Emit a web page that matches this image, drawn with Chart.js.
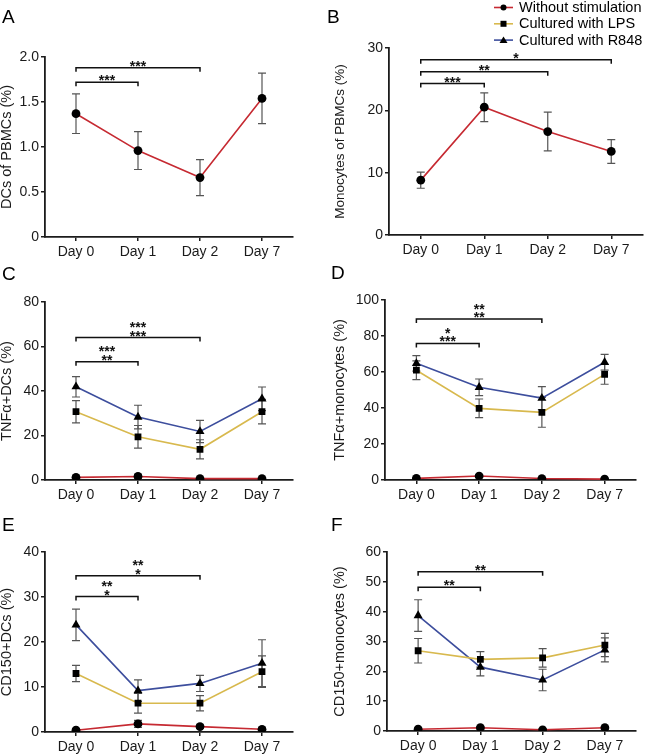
<!DOCTYPE html>
<html>
<head>
<meta charset="utf-8">
<script src="https://cdn.jsdelivr.net/npm/chart.js@4"></script>
<style>
    body { margin: 0; background: #fff; width: 648px; height: 756px; position: relative; overflow: hidden; }
    canvas { position: absolute; }
</style>
</head>
<body>
<canvas id="chartA" width="324" height="262" style="left:0;top:0"></canvas>
<canvas id="chartB" width="324" height="262" style="left:324px;top:0"></canvas>
<canvas id="chartC" width="324" height="262" style="left:0;top:250px"></canvas>
<canvas id="chartD" width="324" height="262" style="left:324px;top:250px"></canvas>
<canvas id="chartE" width="324" height="256" style="left:0;top:500px"></canvas>
<canvas id="chartF" width="324" height="256" style="left:324px;top:500px"></canvas>
<script>
// Categories and series names
const days = ['Day 0', 'Day 1', 'Day 2', 'Day 7'];
const seriesNames = ['Without stimulation', 'Cultured with LPS', 'Cultured with R848'];

// A - DCs of PBMCs
const dcPbmcMean = [1.37, 0.96, 0.66, 1.54];
const dcPbmcErr = [0.22, 0.21, 0.20, 0.28];

// B - Monocytes of PBMCs
const monoPbmcMean = [8.8, 20.5, 16.6, 13.4];
const monoPbmcErr = [1.3, 2.3, 3.1, 1.9];

// C - TNFa+ DCs
const tnfDcNone = [1.2, 1.6, 0.6, 0.6];
const tnfDcNoneErr = [0.6, 0.8, 0.4, 0.3];
const tnfDcLps = [30.7, 19.4, 13.8, 30.7];
const tnfDcLpsErr = [5.0, 5.1, 4.3, 5.5];
const tnfDcR848 = [41.9, 28.3, 21.8, 36.5];
const tnfDcR848Err = [4.6, 5.3, 5.0, 5.3];

// D - TNFa+ monocytes
const tnfMoNone = [0.9, 2.2, 0.8, 0.5];
const tnfMoNoneErr = [0.5, 0.6, 0.4, 0.3];
const tnfMoLps = [61.0, 39.8, 37.6, 58.7];
const tnfMoLpsErr = [5.2, 5.2, 8.3, 5.5];
const tnfMoR848 = [64.8, 51.5, 45.5, 65.4];
const tnfMoR848Err = [4.3, 4.6, 6.4, 4.4];

// E - CD150+ DCs
const cdDcNone = [0.4, 1.8, 1.2, 0.6];
const cdDcNoneErr = [0.3, 0.8, 0.4, 0.3];
const cdDcLps = [13.0, 6.4, 6.4, 13.4];
const cdDcLpsErr = [1.8, 2.2, 1.7, 3.5];
const cdDcR848 = [23.8, 9.2, 10.8, 15.3];
const cdDcR848Err = [3.5, 2.4, 1.8, 5.2];

// F - CD150+ monocytes
const cdMoNone = [0.6, 1.1, 0.4, 1.1];
const cdMoNoneErr = [0.3, 0.4, 0.3, 0.4];
const cdMoLps = [26.9, 24.0, 24.5, 28.8];
const cdMoLpsErr = [4.1, 2.6, 3.1, 3.9];
const cdMoR848 = [38.7, 21.4, 17.1, 27.2];
const cdMoR848Err = [5.3, 2.9, 3.6, 4.0];

// Significance brackets: from Day 0 to index, at y value, star rows top to bottom
const bracketsA = [{ to: 1, y: 1.72, stars: ['***'] }, { to: 2, y: 1.88, stars: ['***'] }];
const bracketsB = [{ to: 1, y: 24.3, stars: ['***'] }, { to: 2, y: 26.2, stars: ['**'] }, { to: 3, y: 28.1, stars: ['*'] }];
const bracketsC = [{ to: 1, y: 53.2, stars: ['***', '**'] }, { to: 2, y: 64.0, stars: ['***', '***'] }];
const bracketsD = [{ to: 1, y: 75.9, stars: ['*', '***'] }, { to: 2, y: 89.4, stars: ['**', '**'] }];
const bracketsE = [{ to: 1, y: 30.1, stars: ['**', '*'] }, { to: 2, y: 34.7, stars: ['**', '*'] }];
const bracketsF = [{ to: 1, y: 48.2, stars: ['**'] }, { to: 2, y: 53.4, stars: ['**'] }];

const RED = '#c62a32';
const GOLD = '#d8b94e';
const BLUE = '#3d4e9d';
const AXIS = '#1c1c1c';
const FONT = "'Liberation Sans', Arial, sans-serif";

Chart.defaults.font.family = FONT;
Chart.defaults.color = '#1a1a1a';

const styles = [
    { color: RED, point: 'circle', radius: 4.4 },
    { color: GOLD, point: 'rect', radius: 4.8 },
    { color: BLUE, point: 'triangle', radius: 5.2 }
];

function series(idx, values, errs) {
    const s = styles[idx];
    return {
        label: seriesNames[idx],
        data: values,
        errors: errs,
        borderColor: s.color,
        borderWidth: 1.6,
        pointStyle: s.point,
        pointRadius: s.radius,
        pointBackgroundColor: '#000',
        pointBorderColor: '#000',
        pointBorderWidth: 0,
        tension: 0
    };
}

// error bars, brackets, panel letter, legend
const decor = {
    id: 'decor',
    beforeDatasetsDraw(chart) {
        const ctx = chart.ctx;
        const y = chart.scales.y;
        ctx.save();
        ctx.strokeStyle = '#555';
        ctx.lineWidth = 1.2;
        chart.data.datasets.forEach((ds, i) => {
            const meta = chart.getDatasetMeta(i);
            ds.data.forEach((v, j) => {
                const e = ds.errors[j];
                const px = meta.data[j].x;
                const top = y.getPixelForValue(v + e);
                const bot = y.getPixelForValue(Math.max(v - e, 0));
                ctx.beginPath();
                ctx.moveTo(px, top); ctx.lineTo(px, bot);
                ctx.moveTo(px - 4, top); ctx.lineTo(px + 4, top);
                ctx.moveTo(px - 4, bot); ctx.lineTo(px + 4, bot);
                ctx.stroke();
            });
        });
        ctx.restore();
    },
    afterDraw(chart, args, opts) {
        const ctx = chart.ctx;
        const x = chart.scales.x;
        const y = chart.scales.y;
        ctx.save();
        // brackets
        ctx.strokeStyle = '#111';
        ctx.fillStyle = '#111';
        ctx.lineWidth = 1.5;
        ctx.font = 'bold 14px ' + FONT;
        ctx.textAlign = 'center';
        ctx.textBaseline = 'alphabetic';
        (opts.brackets || []).forEach(b => {
            const x0 = x.getPixelForValue(0);
            const x1 = x.getPixelForValue(b.to);
            const py = y.getPixelForValue(b.y);
            ctx.beginPath();
            ctx.moveTo(x0, py + 4); ctx.lineTo(x0, py); ctx.lineTo(x1, py); ctx.lineTo(x1, py + 4);
            ctx.stroke();
            const n = b.stars.length;
            b.stars.forEach((s, k) => {
                const row = n - 1 - k;
                ctx.fillText(s, (x0 + x1) / 2, py + 3 - row * 8.5);
            });
        });
        // panel letter
        ctx.font = '19px ' + FONT;
        ctx.textAlign = 'left';
        ctx.fillStyle = '#000';
        ctx.fillText(opts.letter, opts.letterX, opts.letterY);
        // legend
        if (opts.legend) {
            ctx.font = '14.5px ' + FONT;
            ctx.textBaseline = 'middle';
            styles.forEach((s, i) => {
                const ly = 7.5 + i * 16.3;
                ctx.strokeStyle = s.color;
                ctx.lineWidth = 1.6;
                ctx.beginPath();
                ctx.moveTo(170, ly); ctx.lineTo(189, ly);
                ctx.stroke();
                ctx.fillStyle = '#000';
                ctx.beginPath();
                if (s.point === 'circle') {
                    ctx.arc(179.5, ly, 3, 0, Math.PI * 2);
                } else if (s.point === 'rect') {
                    ctx.rect(176.5, ly - 3, 6, 6);
                } else {
                    ctx.moveTo(179.5, ly - 3.5); ctx.lineTo(183.5, ly + 3); ctx.lineTo(175.5, ly + 3); ctx.closePath();
                }
                ctx.fill();
                ctx.fillText(seriesNames[i], 195, ly + 0.5);
            });
        }
        ctx.restore();
    }
};

function makePanel(id, cfg) {
    const canvas = document.getElementById(id);
    const H = canvas.height;
    return new Chart(canvas, {
        type: 'line',
        data: { labels: days, datasets: cfg.datasets },
        options: {
            responsive: false,
            animation: false,
            events: [],
            layout: { padding: { left: 0, top: cfg.top, right: 324 - cfg.right, bottom: 0 } },
            plugins: {
                legend: { display: false },
                tooltip: { enabled: false },
                decor: {
                    brackets: cfg.brackets,
                    letter: cfg.letter,
                    letterX: cfg.letterX,
                    letterY: cfg.letterY,
                    legend: cfg.legend || false
                }
            },
            scales: {
                x: {
                    type: 'category',
                    offset: true,
                    afterFit(scale) { scale.height = H - cfg.bottom; },
                    border: { display: true, color: AXIS, width: 1.8 },
                    grid: { display: true, drawOnChartArea: false, drawTicks: true, tickLength: 4, color: AXIS, lineWidth: 1.5 },
                    ticks: { font: { size: 14 }, padding: 3, color: '#1a1a1a', maxRotation: 0 }
                },
                y: {
                    min: 0,
                    max: cfg.max,
                    afterFit(scale) { scale.width = cfg.left; },
                    border: { display: true, color: AXIS, width: 1.8 },
                    grid: { display: true, drawOnChartArea: false, drawTicks: true, tickLength: 4, color: AXIS, lineWidth: 1.5 },
                    ticks: {
                        stepSize: cfg.step,
                        font: { size: 14 },
                        padding: 2,
                        color: '#1a1a1a',
                        callback: cfg.fmt || (v => String(v))
                    },
                    title: {
                        display: true,
                        text: cfg.title,
                        font: { size: cfg.titleSize || 14.5, lineHeight: 1 },
                        padding: { top: cfg.titlePad, bottom: 0 },
                        color: '#1a1a1a'
                    }
                }
            }
        },
        plugins: [decor]
    });
}

makePanel('chartA', {
    datasets: [series(0, dcPbmcMean, dcPbmcErr)],
    left: 45, right: 293, top: 57, bottom: 237, max: 2, step: 0.5,
    fmt: v => (v === 0 ? '0' : v.toFixed(1)),
    title: 'DCs of PBMCs (%)', titlePad: 0,
    brackets: bracketsA, letter: 'A', letterX: 2, letterY: 23
});

makePanel('chartB', {
    datasets: [series(0, monoPbmcMean, monoPbmcErr)],
    left: 65, right: 319, top: 48, bottom: 235, max: 30, step: 10,
    title: 'Monocytes of PBMCs (%)', titleSize: 13.5, titlePad: 10,
    brackets: bracketsB, letter: 'B', letterX: 3, letterY: 23, legend: true
});

makePanel('chartC', {
    datasets: [series(0, tnfDcNone, tnfDcNoneErr), series(1, tnfDcLps, tnfDcLpsErr), series(2, tnfDcR848, tnfDcR848Err)],
    left: 45, right: 293, top: 52, bottom: 230, max: 80, step: 20,
    title: 'TNFα+DCs (%)', titlePad: 0,
    brackets: bracketsC, letter: 'C', letterX: 2, letterY: 30
});

makePanel('chartD', {
    datasets: [series(0, tnfMoNone, tnfMoNoneErr), series(1, tnfMoLps, tnfMoLpsErr), series(2, tnfMoR848, tnfMoR848Err)],
    left: 61, right: 312, top: 50, bottom: 230, max: 100, step: 20,
    title: 'TNFα+monocytes (%)', titlePad: 9,
    brackets: bracketsD, letter: 'D', letterX: 7, letterY: 29
});

makePanel('chartE', {
    datasets: [series(0, cdDcNone, cdDcNoneErr), series(1, cdDcLps, cdDcLpsErr), series(2, cdDcR848, cdDcR848Err)],
    left: 45, right: 293, top: 52, bottom: 232, max: 40, step: 10,
    title: 'CD150+DCs (%)', titlePad: 0,
    brackets: bracketsE, letter: 'E', letterX: 2, letterY: 31
});

makePanel('chartF', {
    datasets: [series(0, cdMoNone, cdMoNoneErr), series(1, cdMoLps, cdMoLpsErr), series(2, cdMoR848, cdMoR848Err)],
    left: 63, right: 312, top: 52, bottom: 231, max: 60, step: 10,
    title: 'CD150+monocytes (%)', titlePad: 9,
    brackets: bracketsF, letter: 'F', letterX: 7, letterY: 31
});
</script>
</body>
</html>
